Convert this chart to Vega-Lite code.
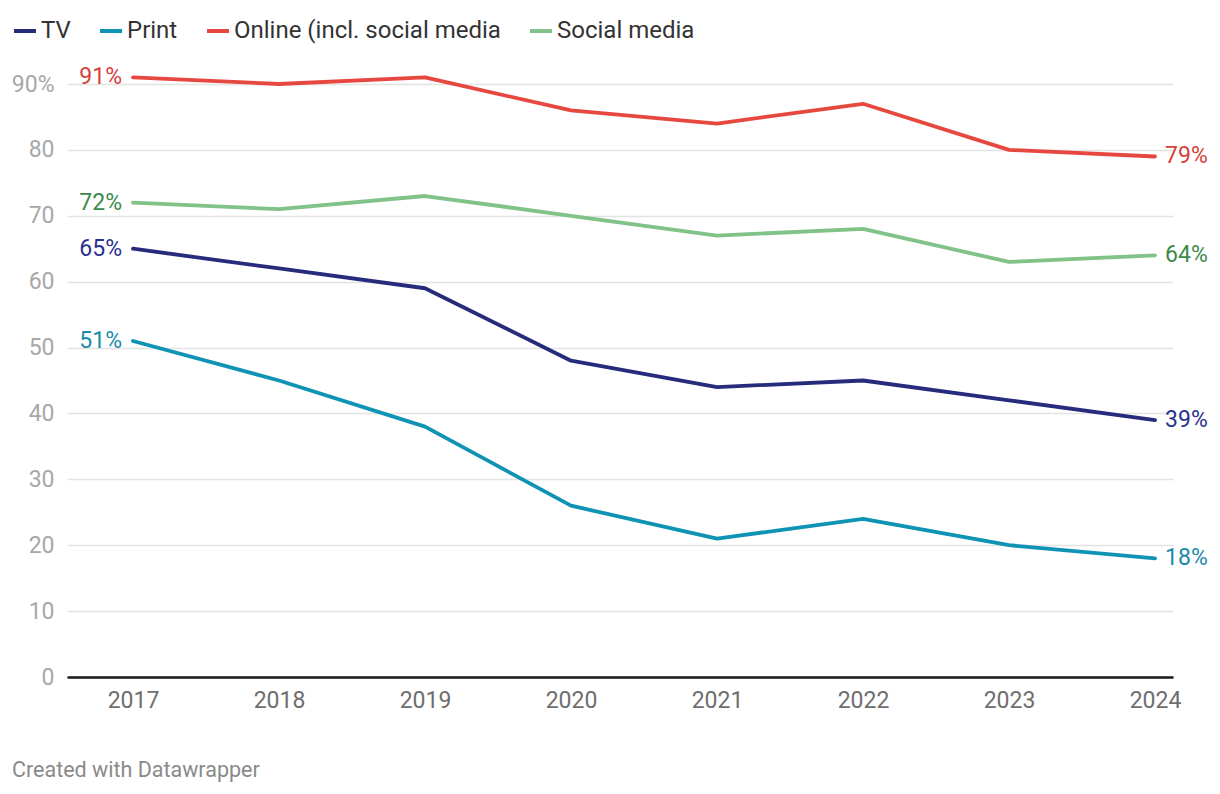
{
  "$schema": "https://vega.github.io/schema/vega-lite/v6.json",
  "width": 1106,
  "height": 593,
  "autosize": {"type": "none"},
  "padding": {"left": 67, "top": 84, "right": 47, "bottom": 117},
  "background": "white",
  "config": {
    "font": "Roboto",
    "view": {"stroke": null}
  },
  "title": {
    "text": "Created with Datawrapper",
    "orient": "bottom",
    "anchor": "start",
    "frame": "group",
    "dx": -55,
    "offset": 48,
    "fontSize": 21.5,
    "fontWeight": "normal",
    "color": "#8a8a8a",
    "font": "Roboto"
  },
  "data": {
    "values": [
      {"year": 2017, "series": "TV", "value": 65},
      {"year": 2018, "series": "TV", "value": 62},
      {"year": 2019, "series": "TV", "value": 59},
      {"year": 2020, "series": "TV", "value": 48},
      {"year": 2021, "series": "TV", "value": 44},
      {"year": 2022, "series": "TV", "value": 45},
      {"year": 2023, "series": "TV", "value": 42},
      {"year": 2024, "series": "TV", "value": 39},
      {"year": 2017, "series": "Print", "value": 51},
      {"year": 2018, "series": "Print", "value": 45},
      {"year": 2019, "series": "Print", "value": 38},
      {"year": 2020, "series": "Print", "value": 26},
      {"year": 2021, "series": "Print", "value": 21},
      {"year": 2022, "series": "Print", "value": 24},
      {"year": 2023, "series": "Print", "value": 20},
      {"year": 2024, "series": "Print", "value": 18},
      {"year": 2017, "series": "Online (incl. social media", "value": 91},
      {"year": 2018, "series": "Online (incl. social media", "value": 90},
      {"year": 2019, "series": "Online (incl. social media", "value": 91},
      {"year": 2020, "series": "Online (incl. social media", "value": 86},
      {"year": 2021, "series": "Online (incl. social media", "value": 84},
      {"year": 2022, "series": "Online (incl. social media", "value": 87},
      {"year": 2023, "series": "Online (incl. social media", "value": 80},
      {"year": 2024, "series": "Online (incl. social media", "value": 79},
      {"year": 2017, "series": "Social media", "value": 72},
      {"year": 2018, "series": "Social media", "value": 71},
      {"year": 2019, "series": "Social media", "value": 73},
      {"year": 2020, "series": "Social media", "value": 70},
      {"year": 2021, "series": "Social media", "value": 67},
      {"year": 2022, "series": "Social media", "value": 68},
      {"year": 2023, "series": "Social media", "value": 63},
      {"year": 2024, "series": "Social media", "value": 64}
    ]
  },
  "encoding": {
    "x": {
      "field": "year",
      "type": "quantitative",
      "scale": {"domain": [2016.548, 2024.123], "nice": false, "zero": false},
      "axis": {
        "values": [2017, 2018, 2019, 2020, 2021, 2022, 2023, 2024],
        "format": "d",
        "title": null,
        "grid": false,
        "ticks": false,
        "domain": true,
        "domainColor": "#1a1a1a",
        "domainWidth": 2.5,
        "labelFontSize": 23,
        "labelColor": "#6e6e6e",
        "labelPadding": 12,
        "labelFont": "Roboto"
      }
    },
    "y": {
      "field": "value",
      "type": "quantitative",
      "scale": {"domain": [0, 90], "nice": false},
      "axis": {
        "values": [0, 10, 20, 30, 40, 50, 60, 70, 80, 90],
        "title": null,
        "domain": false,
        "ticks": false,
        "grid": true,
        "gridColor": "#e3e3e3",
        "gridWidth": 1.5,
        "labelFontSize": 23,
        "labelColor": "#a8a8a8",
        "labelPadding": 13,
        "labelFont": "Roboto",
        "labelExpr": "datum.value == 90 ? '90%' : datum.label"
      }
    }
  },
  "layer": [
    {
      "mark": {"type": "line", "strokeWidth": 3.8, "strokeCap": "round", "strokeJoin": "round"},
      "encoding": {
        "color": {
          "field": "series",
          "type": "nominal",
          "scale": {
            "domain": ["TV", "Print", "Online (incl. social media", "Social media"],
            "range": ["#272b7c", "#0f93b5", "#e6483f", "#80c287"]
          },
          "legend": {
            "title": null,
            "orient": "none",
            "direction": "horizontal",
            "legendX": -55,
            "legendY": -66,
            "symbolType": "stroke",
            "symbolSize": 484,
            "symbolStrokeWidth": 4,
            "labelFontSize": 24,
            "labelColor": "#333333",
            "labelFont": "Roboto",
            "labelOffset": 3,
            "labelLimit": 0,
            "columnPadding": 21
          }
        }
      }
    },
    {
      "layer": [
        {
          "transform": [
            {"filter": "datum.year == 2017"},
            {"calculate": "datum.value + '%'", "as": "label"}
          ],
          "mark": {"type": "text", "align": "right", "baseline": "middle", "dx": -11, "fontSize": 23, "font": "Roboto"},
          "encoding": {
            "text": {"field": "label"},
            "color": {
              "field": "series",
              "type": "nominal",
              "scale": {
                "domain": ["TV", "Print", "Online (incl. social media", "Social media"],
                "range": ["#2a3090", "#1a8aaa", "#d8403a", "#3a8a4a"]
              },
              "legend": null
            }
          }
        },
        {
          "transform": [
            {"filter": "datum.year == 2024"},
            {"calculate": "datum.value + '%'", "as": "label"}
          ],
          "mark": {"type": "text", "align": "left", "baseline": "middle", "dx": 10, "fontSize": 23, "font": "Roboto"},
          "encoding": {
            "text": {"field": "label"},
            "color": {
              "field": "series",
              "type": "nominal",
              "scale": {
                "domain": ["TV", "Print", "Online (incl. social media", "Social media"],
                "range": ["#2a3090", "#1a8aaa", "#d8403a", "#3a8a4a"]
              },
              "legend": null
            }
          }
        }
      ]
    }
  ],
  "resolve": {"scale": {"color": "independent"}}
}
